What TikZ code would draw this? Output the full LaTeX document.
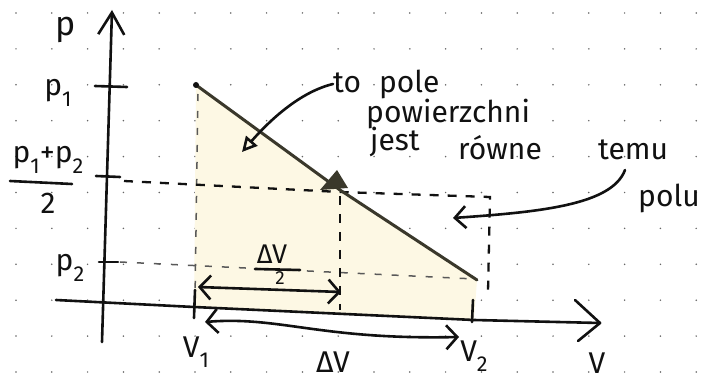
\documentclass[tikz,border=0pt]{standalone}
\usepackage{fontspec}
\setmainfont{Fira Sans}
\usetikzlibrary{arrows.meta}
\definecolor{areafill}{HTML}{FDF8E4}
\definecolor{ink}{HTML}{111111}
\definecolor{edge}{HTML}{3A382B}
\newcommand\subs[1]{\raisebox{-0.35em}{\scalebox{0.72}{#1}}}
\begin{document}
\begin{tikzpicture}[x=1pt,y=-1pt,
  inkline/.style={line width=2.6pt, line cap=round, line join=round, draw=ink},
  dashline/.style={line width=2.3pt, dash pattern=on 9pt off 9pt, draw=ink},
  lightdash/.style={line width=1.5pt, dash pattern=on 7pt off 10pt, draw=black!65},
  lbl/.style={font=\fontsize{30}{30}\selectfont, inner sep=0pt, text=ink},
  txt/.style={font=\fontsize{30}{30}\selectfont, inner sep=0pt, text=ink, anchor=west},
  barb/.tip={Straight Barb[length=11pt,width=24pt]},
]
\useasboundingbox (0,0) rectangle (705,382);
\fill[white] (0,0) rectangle (705,382);
% dot grid
\foreach \i in {0,...,19}
  \foreach \j in {0,...,10}
    \fill[black!60] (16+35.8*\i, 13+35.9*\j) circle (0.85pt);

% key points
\coordinate (A) at (196,85);
\coordinate (M) at (340,190);
\coordinate (B) at (477,280);
\coordinate (C) at (474,320);
\coordinate (D) at (194,307);

% shaded trapezoid
\fill[areafill] (A) -- (M) -- (B) -- (C) -- (D) -- cycle;

% dashed guides
\draw[lightdash] (198,94) -- (195,300);
\draw[lightdash] (120,262) -- (475,279);
\draw[dashline] (124,181) -- (340,192) -- (490,197) -- (488,292);
\draw[dashline] (340,196) -- (340,310);

% slanted edge
\draw[line width=3pt, draw=edge, line cap=round, line join=round] (A) -- (M) -- (B);
\fill[ink] (A) circle (3pt);
\fill[edge] (337,170) -- (320,190) -- (348,188) -- cycle;

% p axis
\coordinate (ptop) at (112,10);
\coordinate (pbot) at (102,342);
\draw[inkline, -{Straight Barb[length=22pt,width=26pt]}] (pbot) -- (ptop);
% V axis
\coordinate (vleft) at (56,300);
\coordinate (vright) at (600,323);
\draw[inkline] (vleft) -- (D) -- (C) -- (vright);
\draw[inkline] (575,300) -- (vright) -- (578,341);
% ticks
\draw[inkline] (95,86) -- (127,87);
\draw[inkline] (96,176) -- (120,177);
\draw[inkline] (99,262) -- (118,262);
\draw[inkline] (195,290) -- (194,318);
\draw[inkline] (473,300) -- (472,322);

% axis labels
\node[lbl, font=\fontsize{34}{34}\selectfont] (lp) at (66,30) {p};
\node[lbl] (lp1) at (58,93) {p\subs{1}};
\node[lbl] (lnum) at (48,160) {p\subs{1}+p\subs{2}};
\draw[inkline] (10,181) -- (72,184);
\node[lbl] (lden) at (48,203) {2};
\node[lbl] (lp2) at (70,268) {p\subs{2}};
\node[lbl] (lv1) at (196,352) {V\subs{1}};
\node[lbl] (ldv) at (333,362) {ΔV};
\node[lbl] (lv2) at (474,356) {V\subs{2}};
\node[lbl] (lv) at (597,363) {V};

% Delta V / 2
\node[lbl, font=\fontsize{27}{27}\selectfont] (lhalf) at (272,254) {ΔV};
\draw[inkline] (255,269) -- (300,270);
\node[lbl, font=\fontsize{19}{19}\selectfont] (lhalf2) at (280,278) {2};
\coordinate (h1) at (198,287);
\coordinate (h2) at (341,292);
\draw[inkline, barb-barb] (h1) -- (h2);

% Delta V arrow
\coordinate (d1) at (205,322);
\coordinate (d2) at (459,337);
\draw[inkline, barb-barb] (d1) .. controls (280,316) and (320,340) .. (d2);

% annotations
\node[txt] (t1) at (333,84) {to\hspace{0.6em}pole};
\node[txt] (t2) at (366,114) {powierzchni};
\node[txt] (t3) at (370,142) {jest};
\node[txt] (t4) at (458,148) {równe};
\node[txt] (t5) at (598,150) {temu};
\node[txt] (t6) at (638,198) {polu};
\draw[inkline, -{Triangle[open,length=15pt,width=15pt]}] (t1.west) .. controls (300,92) and (270,120) .. (242,152);
\coordinate (s2) at (625,170);
\coordinate (tip2) at (453,218);
\draw[inkline, -{Straight Barb[length=11pt,width=22pt]}] (s2) .. controls (612,205) and (540,212) .. (tip2);
\end{tikzpicture}
\end{document}
